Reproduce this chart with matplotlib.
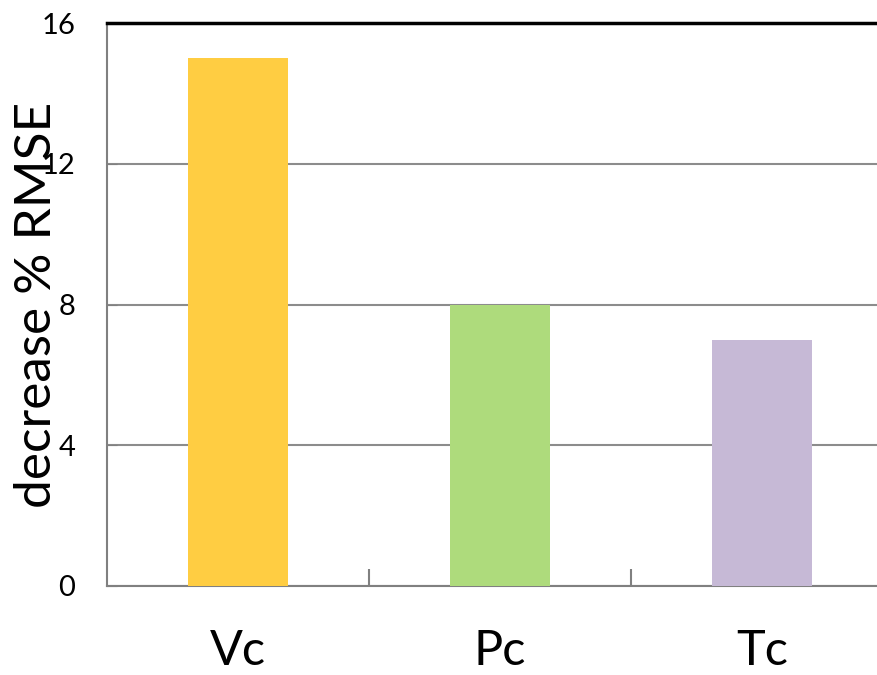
import matplotlib.pyplot as plt
import numpy as np

plt.rcParams['font.family'] = ['Lato', 'DejaVu Sans']

categories = ['Vc', 'Pc', 'Tc']
values = [15, 8, 7]
colors = ['#FFCD42', '#AEDB7C', '#C6B9D6']
yticks = [0, 4, 8, 12, 16]

fig = plt.figure(figsize=(8.77, 6.75), dpi=100)
# axes run past the right edge of the figure, as in the original
ax = fig.add_axes([107 / 877, (675 - 586) / 675, 786 / 877, 563 / 675])

x = np.arange(len(categories))
ax.bar(x, values, width=0.385, color=colors, zorder=3)

ax.set_xlim(-0.5, len(categories) - 0.5)
ax.set_ylim(0, 16)

ax.set_yticks(yticks)
ax.set_yticklabels([str(t) for t in yticks], fontsize=21)
ax.tick_params(axis='y', direction='in', length=7, color='#808080', pad=23)
ax.yaxis.grid(True, color='#8c8c8c', linewidth=1.5, zorder=0)

ax.set_xticks(x)
ax.set_xticklabels(categories, fontsize=35)
ax.tick_params(axis='x', length=0, pad=31)
ax.set_xticks([0.5, 1.5], minor=True)
ax.tick_params(axis='x', which='minor', direction='in', length=12, width=1.5, color='#808080')

ax.spines['right'].set_visible(False)
ax.spines['top'].set_color('black')
ax.spines['top'].set_linewidth(2.5)
ax.spines['left'].set_color('#808080')
ax.spines['left'].set_linewidth(1.5)
ax.spines['bottom'].set_color('#808080')
ax.spines['bottom'].set_linewidth(1.5)

ax.set_ylabel('decrease % RMSE', fontsize=37, labelpad=0)
ax.yaxis.set_label_coords(-0.06, 0.499)

fig.savefig('out.png', dpi=100)
